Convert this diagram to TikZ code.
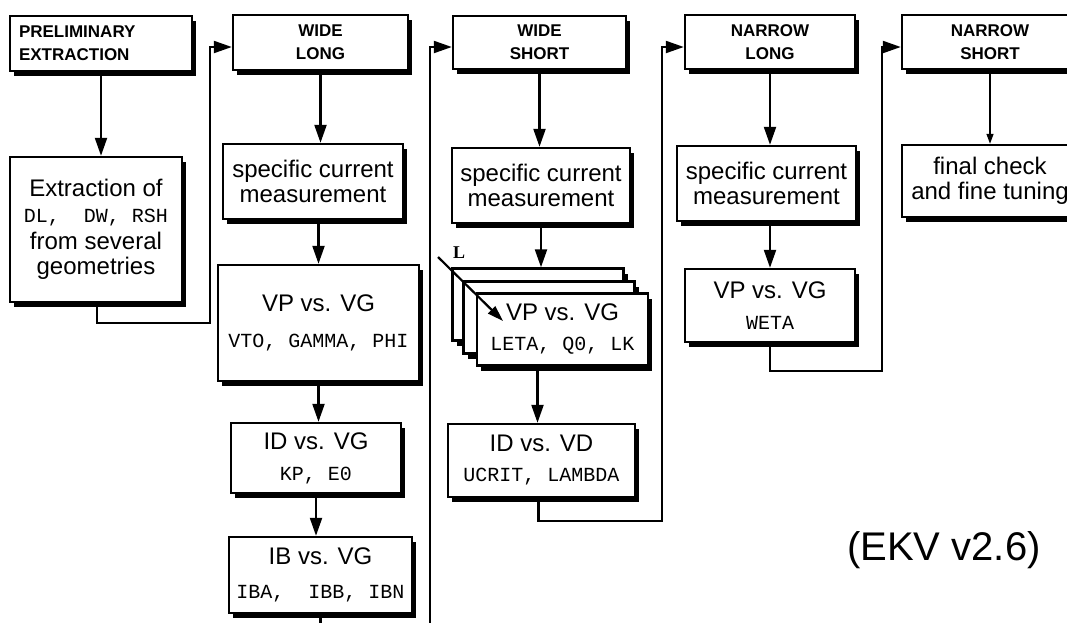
\documentclass[tikz,border=0pt]{standalone}
\usepackage{fontspec}
\setmainfont{Liberation Sans}
\setmonofont{Liberation Mono}
\newfontfamily\lblfont{Liberation Serif}
\usepackage{tikz}
\usetikzlibrary{arrows.meta}
\usetikzlibrary{shadows}
\newcommand\bodysize{\fontsize{24pt}{25pt}\selectfont}
\newcommand\headsize{\fontsize{17pt}{23pt}\selectfont\bfseries}
\newcommand\parm[1]{{\fontsize{20pt}{22pt}\selectfont\ttfamily #1}}
\tikzset{
  box/.style={draw, line width=2.4pt, fill=white, inner sep=0pt, align=center, font=\bodysize,
              drop shadow={shadow xshift=4pt, shadow yshift=-5pt, opacity=1, fill=black}},
  headbox/.style={box, font=\headsize},
  flow/.style={line width=2.2pt, -{Triangle[length=18pt,width=12pt]}},
  thinflow/.style={line width=1.4pt, -{Triangle[length=10pt,width=7pt]}},
  link/.style={line width=2.2pt},
}

\begin{document}
\begin{tikzpicture}[x=1pt, y=-1pt]
\useasboundingbox (0,0) rectangle (1067,622);
\clip (0,0) rectangle (1067,622);

\node[headbox, minimum width=182pt, minimum height=55pt, text width=164pt, align=left] (pre) at (101,43.5) {PRELIMINARY\\EXTRACTION};
\node[headbox, minimum width=175pt, minimum height=55pt] (wl) at (320.5,42.5) {WIDE\\LONG};
\node[headbox, minimum width=173pt, minimum height=53pt] (ws) at (539.5,42.5) {WIDE\\SHORT};
\node[headbox, minimum width=170pt, minimum height=54pt] (nl) at (770,42) {NARROW\\LONG};
\node[headbox, minimum width=176pt, minimum height=54pt] (ns) at (990,42) {NARROW\\SHORT};

\node[box, minimum width=172pt, minimum height=145pt] (extr) at (96,229.5) {Extraction of\\[1pt]\parm{DL,\ \ DW, RSH}\\[2pt]from several\\geometries};

\node[box, minimum width=180pt, minimum height=75pt] (wl1) at (313,181.5) {specific current\\measurement};
\node[box, minimum width=201pt, minimum height=116pt] (wl2) at (318.5,323) {VP vs. VG\\[11pt]\parm{VTO, GAMMA, PHI}};
\node[box, minimum width=170pt, minimum height=70pt] (wl3) at (316,458) {ID vs. VG\\[6pt]\parm{KP, E0}};
\node[box, minimum width=183pt, minimum height=76pt] (wl4) at (320.5,575) {IB vs. VG\\[9pt]\parm{IBA,\ \ IBB, IBN}};

\node[box, minimum width=178pt, minimum height=75pt] (ws1) at (541,185.5) {specific current\\measurement};
\node[box, minimum width=171pt, minimum height=72pt] (wsa) at (538,304.5) {};
\node[box, minimum width=171pt, minimum height=72pt] (wsb) at (549,317.5) {};
\node[box, minimum width=171pt, minimum height=72pt] (wsc) at (562.5,329.5) {VP vs. VG\\[5pt]\parm{LETA, Q0, LK}};
\node[box, minimum width=187pt, minimum height=73pt] (ws3) at (541.5,460.5) {ID vs. VD\\[5pt]\parm{UCRIT, LAMBDA}};

\node[box, minimum width=179pt, minimum height=75pt] (nl1) at (766.5,183.5) {specific current\\measurement};
\node[box, minimum width=170pt, minimum height=73pt] (nl2) at (770,305.5) {VP vs. VG\\[6pt]\parm{WETA}};

\node[box, minimum width=176pt, minimum height=72pt] (ns1) at (990,181) {final check\\and fine tuning};

\node[font={\fontsize{40pt}{44pt}\selectfont}] (ver) at (944,550) {(EKV v2.6)};
\node[font={\fontsize{18pt}{19pt}\lblfont\bfseries}] (lbl) at (459,253) {L};

\coordinate (k1) at (210,323);
\coordinate (k2) at (430,640);
\coordinate (k3) at (662,521);
\coordinate (k4) at (882,371);
\coordinate (wlend) at (320,640);
\coordinate (lstart) at (438,257);
\coordinate (lend) at (503,321);

\draw[flow] (pre.south) -- (pre.south |- extr.north);
\draw[flow] ([xshift=1pt]extr.south) |- (k1) |- ([yshift=-4.5pt]wl.west);
\draw[flow] (wl.south) -- (wl.south |- wl1.north);
\draw[flow] (wl2.north |- wl1.south) -- (wl2.north);
\draw[flow] (wl2.south) -- (wl2.south |- wl3.north);
\draw[flow] (wl3.south) -- (wl3.south |- wl4.north);
\draw[link] (wl4.south) -- (wl4.south |- wlend);

\draw[flow] (k2) |- ([yshift=-4.5pt]ws.west);
\draw[flow] (ws.south) -- (ws.south |- ws1.north);
\draw[flow] (ws1.south) -- (ws1.south |- wsa.north);
\draw[flow] ([xshift=-4pt]ws3.north |- wsc.south) -- ([xshift=-4pt]ws3.north);
\draw[flow, -{Triangle[length=16pt,width=10pt]}] (lstart) -- (lend);
\draw[flow] ([xshift=-3pt]ws3.south) |- (k3) |- ([yshift=-5pt]nl.west);

\draw[flow] (nl.south) -- (nl.south |- nl1.north);
\draw[flow] (nl2.north |- nl1.south) -- (nl2.north);
\draw[flow] (nl2.south) |- (k4) |- ([yshift=-5pt]ns.west);

\draw[thinflow] (ns.south) -- (ns.south |- ns1.north);
\end{tikzpicture}
\end{document}
